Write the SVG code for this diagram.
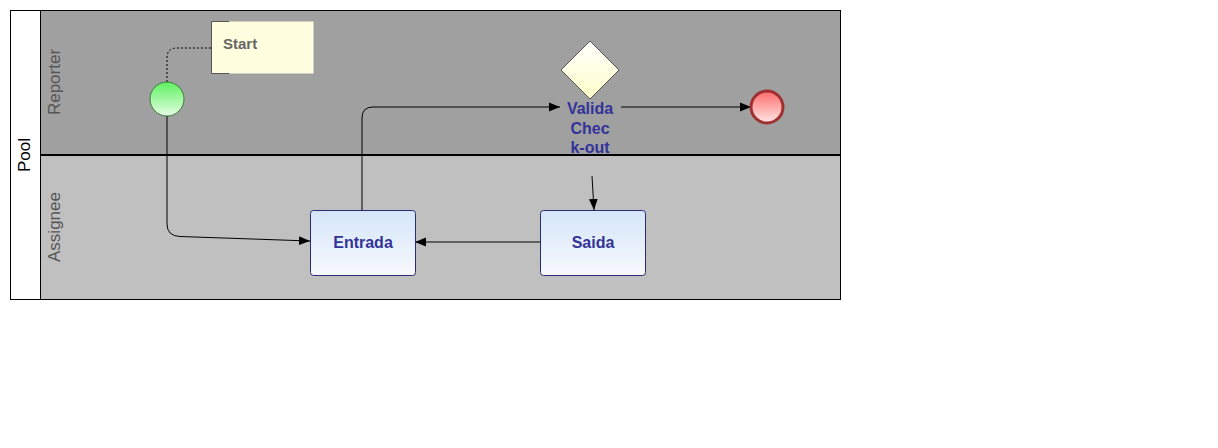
<svg xmlns="http://www.w3.org/2000/svg" width="1218" height="448" viewBox="0 0 1218 448">
<style>
.lbl{font-family:"Liberation Sans",Arial,sans-serif;font-size:15px;}
.lane{font-family:"Liberation Sans",Arial,sans-serif;font-size:17px;}
.gwl{font-family:"Liberation Sans",Arial,sans-serif;font-size:16px;font-weight:bold;fill:#333399;text-anchor:middle;}
.task text{font-family:"Liberation Sans",Arial,sans-serif;font-size:16px;font-weight:bold;fill:#333399;text-anchor:middle;}
.task rect{stroke:#2b2b7a;stroke-width:1;fill:url(#gTask);}
.conn{fill:none;stroke:#000;stroke-width:1;}
</style>
<defs>
<linearGradient id="gTask" x1="0" y1="0" x2="0" y2="1"><stop offset="0" stop-color="#d4e5f8"/><stop offset="1" stop-color="#f7f9fd"/></linearGradient>
<linearGradient id="gStart" x1="0" y1="0" x2="0" y2="1"><stop offset="0" stop-color="#5ef05e"/><stop offset="1" stop-color="#e6ffe6"/></linearGradient>
<linearGradient id="gEnd" x1="0" y1="0" x2="0" y2="1"><stop offset="0" stop-color="#ff6b6b"/><stop offset="1" stop-color="#ffe6e6"/></linearGradient>
<linearGradient id="gGw" x1="0" y1="0" x2="0" y2="1"><stop offset="0" stop-color="#ffffff"/><stop offset="1" stop-color="#ffffc8"/></linearGradient>
<marker id="arr" viewBox="0 0 10 10" refX="10" refY="5" markerWidth="11" markerHeight="11" markerUnits="userSpaceOnUse" orient="auto"><path d="M0,1 L10,5 L0,9 Z" fill="#000"/></marker>
</defs>
<rect width="1218" height="448" fill="#fff"/>
<g id="pool">
<rect x="10.5" y="10.5" width="830" height="289" fill="#fff" stroke="#000"/>
<rect x="40.5" y="10.5" width="800" height="145" fill="#a0a0a0" stroke="#000"/>
<rect x="40.5" y="155.5" width="800" height="144" fill="#c0c0c0" stroke="#000"/>
<line x1="40" y1="155" x2="841" y2="155" stroke="#000" stroke-width="2"/>
<text class="lane" transform="translate(30,155) rotate(-90)" text-anchor="middle" fill="#000">Pool</text>
<text class="lane" transform="translate(60,82) rotate(-90)" text-anchor="middle" fill="#555">Reporter</text>
<text class="lane" transform="translate(60,227) rotate(-90)" text-anchor="middle" fill="#555">Assignee</text>
</g>
<g id="connectors">
<path class="conn" d="M167,82 V58 Q167,48 177,48 H211" stroke-dasharray="2,2" stroke-width="2"/>
<path class="conn" d="M167,116 V224 Q167,236 180,236.5 L310,241" marker-end="url(#arr)"/>
<path class="conn" d="M362,210 V118 Q362,107 373,107 H560" marker-end="url(#arr)"/>
<path class="conn" d="M621,107 H751" marker-end="url(#arr)"/>
<path class="conn" d="M592,176 L594,210" marker-end="url(#arr)"/>
<path class="conn" d="M540,242 H415" marker-end="url(#arr)"/>
</g>
<g id="note">
<rect x="211.5" y="21.5" width="102" height="52" fill="#ffffe0"/>
<path d="M229,21.5 H211.5 V73.5 H229" fill="none" stroke="#555" stroke-width="1"/>
<text class="lbl" x="223" y="49" font-weight="bold" fill="#666">Start</text>
</g>
<g id="start">
<circle cx="167" cy="99" r="17" fill="url(#gStart)" stroke="#3b7a3b" stroke-width="1"/>
</g>
<g id="gateway">
<polygon points="590,41 619,70 590,99 561,70" fill="url(#gGw)" stroke="#555" stroke-width="1"/>
<text class="gwl"><tspan x="590" y="114">Valida</tspan><tspan x="590" y="134">Chec</tspan><tspan x="590" y="153">k-out</tspan></text>
</g>
<g id="end">
<circle cx="767" cy="107" r="16" fill="url(#gEnd)" stroke="#a03030" stroke-width="3"/>
</g>
<g id="entrada" class="task">
<rect x="310.5" y="210.5" width="105" height="65" rx="3"/>
<text x="363" y="248">Entrada</text>
</g>
<g id="saida" class="task">
<rect x="540.5" y="210.5" width="105" height="65" rx="3"/>
<text x="593" y="248">Saida</text>
</g>
</svg>
